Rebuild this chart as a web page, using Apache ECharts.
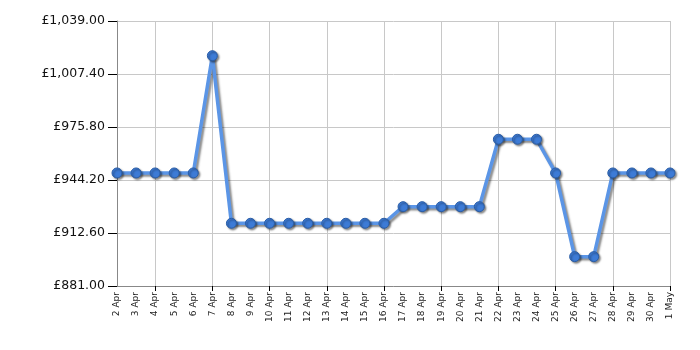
<!DOCTYPE html>
<html><head><meta charset="utf-8">
<script src="https://cdn.jsdelivr.net/npm/echarts@6/dist/echarts.min.js"></script>
<style>html,body{margin:0;padding:0;background:#fff}#c{width:700px;height:350px}</style>
</head><body><div id="c"></div>
<script>
const categories = ["2 Apr","3 Apr","4 Apr","5 Apr","6 Apr","7 Apr","8 Apr","9 Apr","10 Apr","11 Apr","12 Apr","13 Apr","14 Apr","15 Apr","16 Apr","17 Apr","18 Apr","19 Apr","20 Apr","21 Apr","22 Apr","23 Apr","24 Apr","25 Apr","26 Apr","27 Apr","28 Apr","29 Apr","30 Apr","1 May"];
const prices = [948.4,948.4,948.4,948.4,948.4,1018.3,918.4,918.4,918.4,918.4,918.4,918.4,918.4,918.4,918.4,928.3,928.3,928.3,928.3,928.3,968.5,968.5,968.5,948.4,898.5,898.5,948.4,948.4,948.4,948.4];
const yMin = 881, yMax = 1039, yStep = 31.6;

const chart = echarts.init(document.getElementById('c'), null, {renderer:'canvas'});
const fmt = v => '£' + v.toLocaleString('en-GB',{minimumFractionDigits:2, maximumFractionDigits:2});
const tickIdx = (i) => i % 3 === 2;
chart.setOption({
  animation:false,
  grid:{left:117, right:30, top:21, bottom:64},
  xAxis:{
    type:'category', data:categories, boundaryGap:false,
    axisLine:{lineStyle:{color:'#888', width:1}},
    axisTick:{show:true, interval:(i)=>tickIdx(i), length:5, lineStyle:{color:'#000'}},
    splitLine:{show:true, interval:(i)=>tickIdx(i), lineStyle:{color:'#c8c8c8'}},
    axisLabel:{interval:0, rotate:90, fontFamily:'DejaVu Sans', fontSize:9, color:'#222', margin:6}
  },
  yAxis:{
    type:'value', min:yMin, max:yMax, interval:yStep,
    axisLine:{show:true, lineStyle:{color:'#888'}},
    axisTick:{show:true, length:9, lineStyle:{color:'#000'}},
    splitLine:{lineStyle:{color:'#c8c8c8'}},
    axisLabel:{formatter:fmt, fontFamily:'DejaVu Sans', fontSize:12.5, color:'#111', margin:12}
  },
  series:[{
    type:'line', data:prices, symbol:'circle', symbolSize:10,
    lineStyle:{color:'#5b95e6', width:3.5, shadowColor:'rgba(0,0,0,0.45)', shadowBlur:2, shadowOffsetX:2, shadowOffsetY:2},
    itemStyle:{color:'#3d7bd6', borderColor:'#2a5da6', borderWidth:1, shadowColor:'rgba(0,0,0,0.45)', shadowBlur:2, shadowOffsetX:1.5, shadowOffsetY:1.5}
  }]
});
</script></body></html>
